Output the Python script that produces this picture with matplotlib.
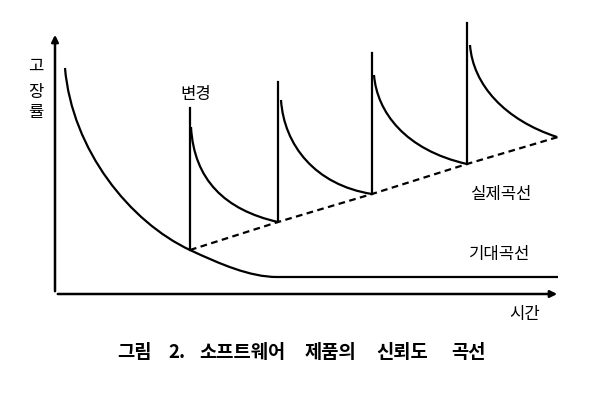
import matplotlib.pyplot as plt
from matplotlib.path import Path
from matplotlib.patches import PathPatch

plt.rcParams['font.family'] = ['Noto Sans CJK KR', 'DejaVu Sans']

# 기대곡선: 베지어 조절점 (시간, 고장률), 두 조각 뒤 수평선
ideal_t = [0.10, 0.17, 0.75, 1.35, 1.65, 1.95, 2.22, 5.03]
ideal_r = [2.26, 1.44, 0.72, 0.44, 0.30, 0.17, 0.17, 0.17]

# 변경 시점, 그 때의 바닥값과 꼭대기
change_t = [1.35, 2.23, 3.17, 4.12]
change_low = [0.44, 0.72, 1.00, 1.30]
change_peak = [1.86, 2.12, 2.41, 2.71]

# 변경 뒤 실제곡선 구간: 구간마다 베지어 조절점 네 개
seg_t = [
    [1.36, 1.39, 1.70, 2.23],
    [2.26, 2.29, 2.60, 3.17],
    [3.19, 3.22, 3.50, 4.12],
    [4.15, 4.18, 4.50, 5.02],
]
seg_r = [
    [1.67, 1.14, 0.84, 0.72],
    [1.94, 1.49, 1.09, 1.00],
    [2.19, 1.82, 1.44, 1.30],
    [2.49, 2.09, 1.74, 1.57],
]

# 점선(실제곡선의 바닥 추세)
trend_t = change_t + [5.03]
trend_r = change_low + [1.57]

# 그림 제목 낱말과 가운데 위치
caption_words = ['그림', '2.', '소프트웨어', '제품의', '신뢰도', '곡선']
caption_x = [0.79, 1.22, 1.87, 2.755, 3.475, 4.13]

fig = plt.figure(figsize=(6, 4), dpi=100)
ax = fig.add_axes([0, 0, 1, 1])
ax.set_xlim(-0.55, 5.45)
ax.set_ylim(-1.06, 2.94)
ax.axis('off')

lw = 1.6
C4 = Path.CURVE4
ideal_codes = [Path.MOVETO, C4, C4, C4, C4, C4, C4, Path.LINETO]
ax.add_patch(PathPatch(Path(list(zip(ideal_t, ideal_r)), ideal_codes),
                       fill=False, edgecolor='black', lw=lw))
for t, lo, hi in zip(change_t, change_low, change_peak):
    ax.plot([t, t], [lo, hi], color='black', lw=lw)
for ts, rs in zip(seg_t, seg_r):
    p = Path(list(zip(ts, rs)), [Path.MOVETO, C4, C4, C4])
    ax.add_patch(PathPatch(p, fill=False, edgecolor='black', lw=lw))
ax.plot(trend_t, trend_r, color='black', lw=lw, linestyle=(0, (3, 2)))

# 축 화살표
arrow = dict(arrowstyle='-|>', color='black', lw=1.8, mutation_scale=10)
ax.annotate('', xy=(0, 2.62), xytext=(0, 0), arrowprops=arrow)
ax.annotate('', xy=(5.05, 0), xytext=(0, 0), arrowprops=arrow)

# 글자
fs = 12
for ch, y in zip(['고', '장', '률'], [2.28, 2.01, 1.81]):
    ax.text(-0.19, y, ch, fontsize=fs, ha='center', va='center')
ax.text(1.41, 2.00, '변경', fontsize=fs, ha='center', va='center')
ax.text(4.46, 1.00, '실제곡선', fontsize=fs, ha='center', va='center')
ax.text(4.45, 0.39, '기대곡선', fontsize=fs, ha='center', va='center')
ax.text(4.70, -0.20, '시간', fontsize=fs, ha='center', va='center')
for word, x in zip(caption_words, caption_x):
    ax.text(x, -0.59, word, fontsize=13.5, ha='center', va='center',
            fontweight='bold')

plt.savefig('out.png', dpi=100)
